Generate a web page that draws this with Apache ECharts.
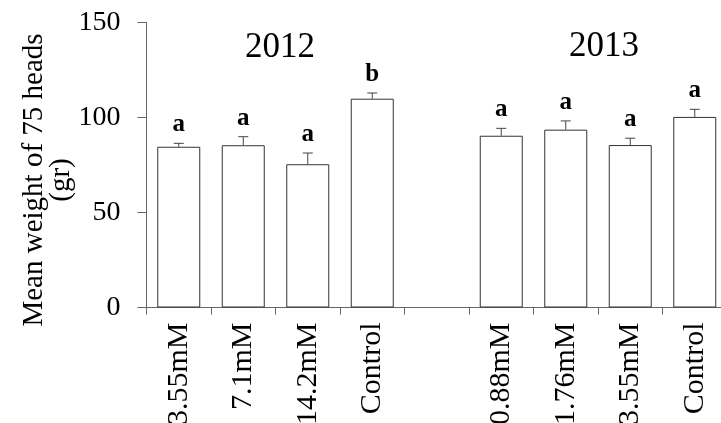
<!DOCTYPE html>
<html>
<head>
<meta charset="utf-8">
<script src="https://cdn.jsdelivr.net/npm/echarts@6/dist/echarts.min.js"></script>
<style>
    html, body { margin: 0; padding: 0; background: #fff; }
    #main { width: 721px; height: 423px; }
</style>
</head>
<body>
<div id="main"></div>
<script>
// 处理组（中间空一格分开两年）
var categories = ['3.55mM', '7.1mM', '14.2mM', 'Control', '', '0.88mM', '1.76mM', '3.55mM', 'Control'];
// 平均重量
var means = [84.6, 85.4, 75.4, 109.9, '-', 90.4, 93.6, 85.5, 100.3];
// 误差线上端
var errTops = [86.4, 89.9, 81.3, 112.9, '-', 94.3, 98.2, 89.1, 104.3];
// 显著性字母
var letters = ['a', 'a', 'a', 'b', '', 'a', 'a', 'a', 'a'];
var years = ['2012', '2013'];

var serif = "'Liberation Serif', 'Times New Roman', serif";

var myChart = echarts.init(document.getElementById('main'));

/**
 * 误差线和字母
 */
function renderErrorBar(params, api) {
    var idx = api.value(0);
    var mean = api.value(1);
    var top = api.value(2);
    if (isNaN(mean) || isNaN(top)) {
        return;
    }
    var p0 = api.coord([idx, mean]);
    var p1 = api.coord([idx, top]);
    var cap = 5;
    return {
        type: 'group',
        children: [
            {
                type: 'line',
                shape: {x1: p0[0], y1: p0[1], x2: p1[0], y2: p1[1]},
                style: {stroke: '#444', lineWidth: 1}
            },
            {
                type: 'line',
                shape: {x1: p1[0] - cap, y1: p1[1], x2: p1[0] + cap, y2: p1[1]},
                style: {stroke: '#444', lineWidth: 1}
            },
            {
                type: 'text',
                x: p1[0],
                y: p1[1] - 6,
                style: {
                    text: letters[idx],
                    fill: '#000',
                    font: 'bold 25px ' + serif,
                    align: 'center',
                    verticalAlign: 'bottom'
                }
            }
        ]
    };
}

var errData = [];
for (var i = 0; i < categories.length; i++) {
    errData.push([i, means[i], errTops[i]]);
}

var option = {
    animation: false,
    grid: {
        left: 146.5,
        right: -6,
        top: 22.5,
        bottom: 115.5,
        containLabel: false,
        outerBoundsMode: 'none'
    },
    xAxis: {
        type: 'category',
        data: categories,
        axisLine: {lineStyle: {color: '#666', width: 1}},
        axisTick: {show: true, length: 7, lineStyle: {color: '#666'}},
        axisLabel: {
            rotate: 90,
            interval: 0,
            margin: 15,
            color: '#000',
            fontFamily: serif,
            fontSize: 30
        }
    },
    yAxis: {
        type: 'value',
        min: 0,
        max: 150,
        interval: 50,
        splitLine: {show: false},
        axisLine: {show: true, lineStyle: {color: '#666', width: 1}},
        axisTick: {show: true, length: 9, lineStyle: {color: '#666'}},
        axisLabel: {
            margin: 26,
            color: '#000',
            fontFamily: serif,
            fontSize: 28
        }
    },
    graphic: [
        {
            type: 'text',
            x: 48,
            y: 180,
            rotation: Math.PI / 2,
            style: {
                text: 'Mean weight of 75 heads\n(gr)',
                font: '29px ' + serif,
                lineHeight: 27,
                fill: '#000',
                align: 'center',
                verticalAlign: 'middle'
            }
        },
        {
            type: 'text',
            x: 280,
            y: 48,
            style: {
                text: years[0],
                font: '35px ' + serif,
                fill: '#000',
                align: 'center',
                verticalAlign: 'middle'
            }
        },
        {
            type: 'text',
            x: 604,
            y: 47,
            style: {
                text: years[1],
                font: '35px ' + serif,
                fill: '#000',
                align: 'center',
                verticalAlign: 'middle'
            }
        }
    ],
    series: [
        {
            type: 'bar',
            data: means,
            barWidth: 43,
            itemStyle: {
                color: '#fff',
                borderColor: '#333',
                borderWidth: 1
            },
            z: 2
        },
        {
            type: 'custom',
            data: errData,
            renderItem: renderErrorBar,
            encode: {x: 0, y: [1, 2]},
            z: 3
        }
    ]
};

myChart.setOption(option, true);
</script>
</body>
</html>
